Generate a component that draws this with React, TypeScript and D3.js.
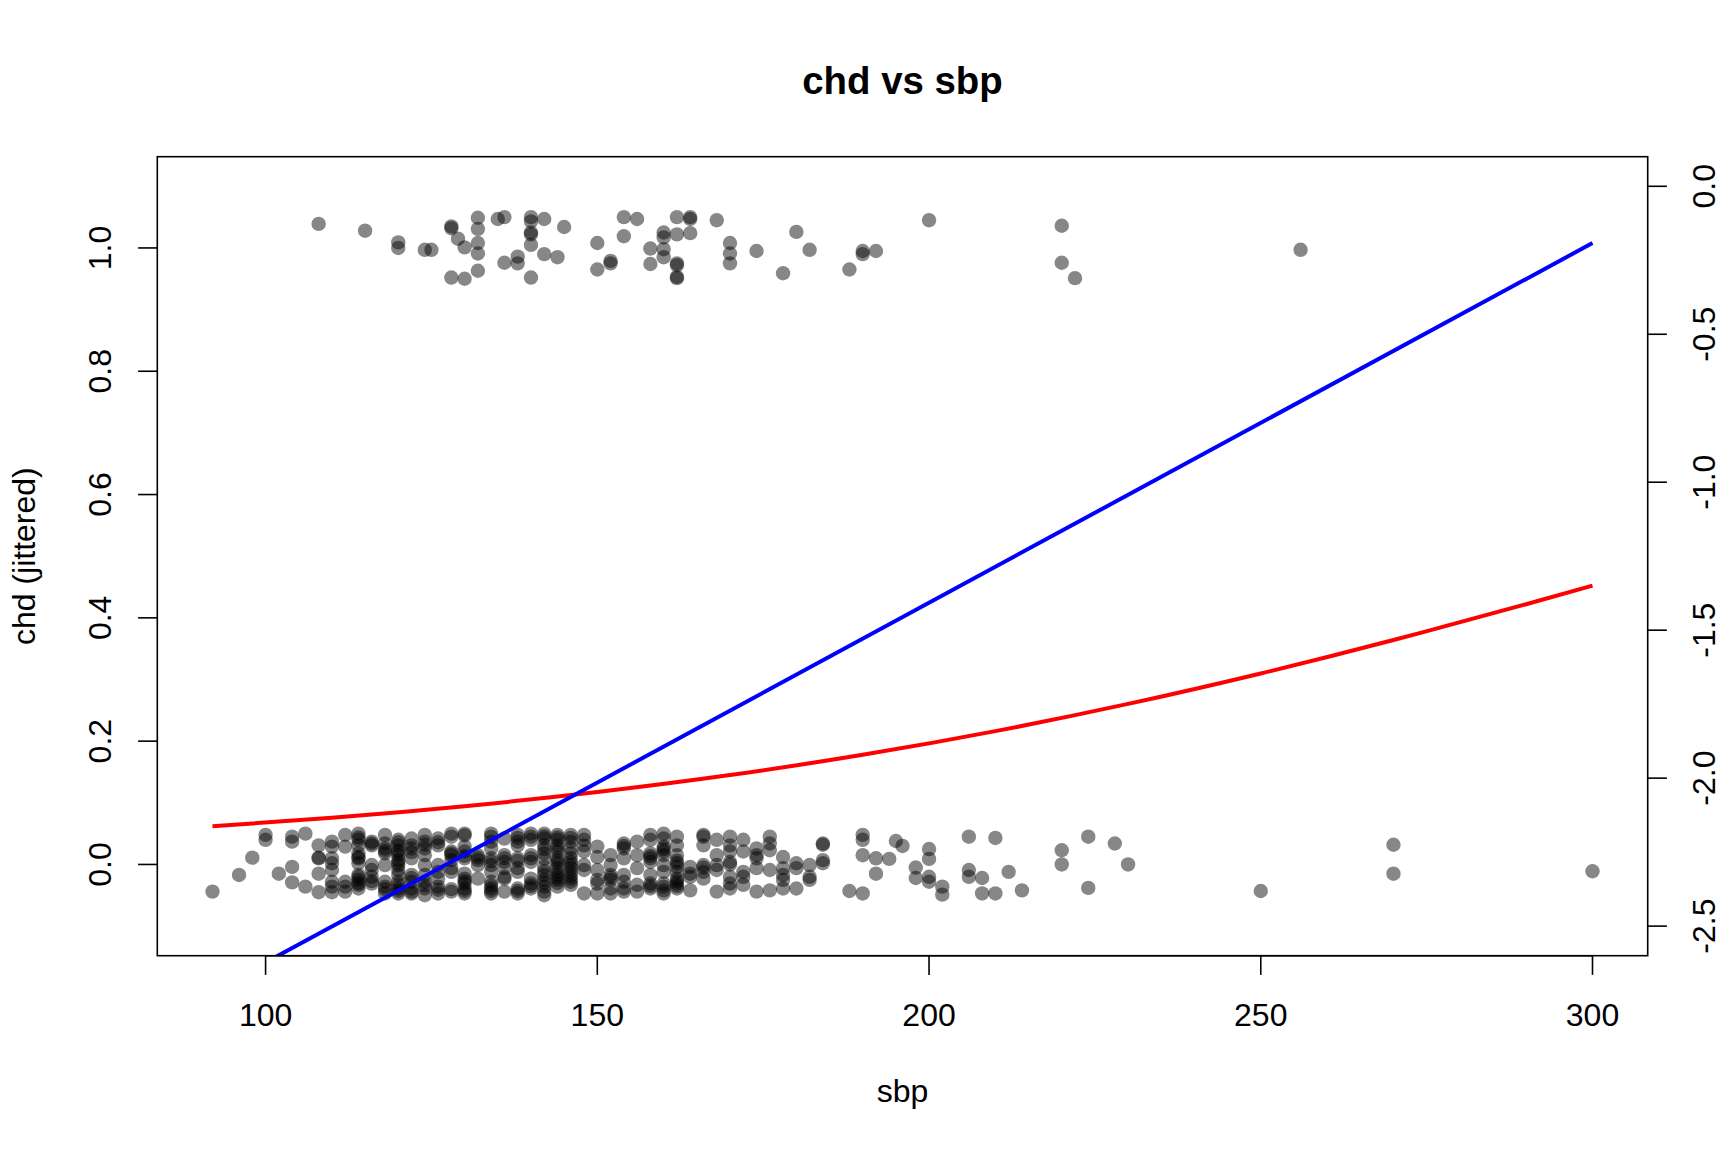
import React from 'react'
import * as d3 from 'd3'

// chd = 1 cases, [sbp, jittered chd]
const casePoints: Array<[number, number]> = [
  [108, 1.039], [115, 1.028], [120, 1.009], [120, 1.0], [124, 0.997], [125, 0.997],
  [128, 1.032], [128, 1.035], [129, 1.015], [130, 1.001], [128, 0.952], [130, 0.95],
  [132, 1.049], [132, 1.031], [132, 1.008], [132, 0.991], [132, 0.963], [135, 1.047],
  [136, 1.05], [136, 0.976], [138, 0.986], [138, 0.975], [140, 1.05], [140, 1.043],
  [140, 1.025], [140, 1.022], [140, 1.005], [140, 0.952], [142, 1.047], [142, 0.99],
  [144, 0.985], [145, 1.034], [150, 1.008], [150, 0.965], [152, 0.979], [152, 0.975],
  [154, 1.05], [154, 1.019], [156, 1.047], [158, 0.999], [158, 0.974], [160, 1.025],
  [160, 1.017], [160, 0.998], [160, 0.985], [162, 1.05], [162, 1.022], [162, 0.975],
  [162, 0.972], [162, 0.953], [162, 0.951], [164, 1.05], [164, 1.047], [164, 1.024],
  [168, 1.045], [170, 1.008], [170, 0.991], [170, 0.975], [174, 0.995], [178, 0.959],
  [180, 1.026], [182, 0.997], [188, 0.965], [190, 0.995], [190, 0.99], [192, 0.995],
  [200, 1.045], [220, 1.036], [220, 0.976], [222, 0.951], [256, 0.997],
]

// chd = 0 controls, grouped by sbp: [sbp, jittered chd values]
const controlColumns: Array<[number, number[]]> = [
  [92, [-0.044]], [96, [-0.017]], [98, [0.011]], [100, [0.048, 0.04]], [102, [-0.015]],
  [104, [0.045, 0.037, -0.004, -0.029]], [106, [0.05, -0.036]],
  [108, [0.031, 0.011, 0.01, -0.015, -0.045]],
  [110, [0.037, 0.029, 0.01, 0.002, -0.009, -0.028, -0.036, -0.045]],
  [112, [0.048, 0.029, -0.028, -0.036, -0.044]],
  [114, [0.05, 0.04, 0.031, 0.018, 0.01, 0.002, -0.017, -0.025, -0.033, -0.039, 0.044, 0.012, -0.02, -0.03]],
  [116, [0.037, 0.031, -0.001, -0.009, -0.02, -0.031, 0.034, -0.027]],
  [118, [0.048, 0.034, 0.026, 0.018, -0.001, -0.028, -0.036, -0.047, 0.022, -0.04]],
  [120, [0.04, 0.031, 0.023, 0.015, 0.007, -0.001, -0.009, -0.017, -0.028, -0.039, -0.047, 0.036, 0.02, 0.003, -0.043, -0.033]],
  [122, [0.042, 0.031, 0.02, 0.01, -0.017, -0.028, -0.039, -0.047, 0.026, -0.022, -0.044]],
  [124, [0.048, 0.037, 0.026, 0.015, -0.001, -0.017, -0.028, -0.039, -0.05, 0.032, -0.034]],
  [126, [0.042, 0.031, -0.001, -0.012, -0.023, -0.036, -0.047, 0.036, -0.041]],
  [128, [0.05, 0.045, 0.021, 0.015, 0.007, -0.006, -0.012, -0.044, 0.018, -0.04]],
  [130, [0.05, 0.029, 0.021, 0.01, -0.015, -0.023, -0.031, -0.039, -0.047, 0.047, 0.014, -0.027, -0.043]],
  [132, [0.015, 0.007, -0.001, -0.023, 0.011]],
  [134, [0.05, 0.037, 0.026, 0.01, -0.001, -0.012, -0.028, -0.039, -0.047, 0.045, 0.005, -0.034, -0.043]],
  [136, [0.042, 0.015, 0.004, -0.006, -0.023, -0.044, 0.01, -0.02]],
  [138, [0.048, 0.037, 0.031, 0.01, -0.006, -0.012, -0.039, -0.047, 0.043, 0.006, -0.043]],
  [140, [0.05, 0.04, 0.015, 0.004, -0.023, -0.031, -0.039, 0.045, 0.01, -0.035]],
  [142, [0.05, 0.042, 0.031, 0.018, 0.01, -0.004, -0.017, -0.025, -0.036, -0.044, -0.05, 0.046, 0.025, -0.011, -0.03]],
  [144, [0.048, 0.04, 0.031, 0.021, 0.01, 0.002, -0.006, -0.017, -0.025, -0.036, 0.044, 0.026, 0.006, -0.012, -0.021, -0.03]],
  [146, [0.048, 0.037, 0.026, 0.01, -0.001, -0.012, -0.023, -0.033, 0.043, 0.018, 0.004, -0.006, -0.018, -0.028]],
  [148, [0.048, 0.031, 0.021, -0.001, -0.009, -0.047, 0.04]],
  [150, [0.029, 0.012, -0.009, -0.025, -0.031, -0.047]],
  [152, [0.015, -0.001, -0.017, -0.025, -0.039, -0.047, -0.021]],
  [154, [0.034, 0.026, 0.01, -0.017, -0.028, -0.039, -0.044, 0.03]],
  [156, [0.037, 0.015, -0.006, -0.033, -0.044]],
  [158, [0.048, 0.04, 0.018, 0.01, 0.004, -0.017, -0.031, -0.039, 0.014, -0.035]],
  [160, [0.05, 0.042, 0.029, 0.021, 0.015, -0.001, -0.012, -0.031, -0.042, -0.047, 0.025, -0.036]],
  [162, [0.045, 0.031, 0.015, 0.002, -0.004, -0.012, -0.023, -0.031, -0.039, 0.006, -0.027, -0.035]],
  [164, [-0.004, -0.015, -0.02, -0.042]],
  [166, [0.048, 0.031, -0.001, -0.012, -0.023, 0.045, -0.005]],
  [168, [0.04, 0.015, -0.001, -0.009, -0.044]],
  [170, [0.045, 0.031, 0.021, 0.004, -0.02, -0.031, -0.039, 0.0]],
  [172, [0.04, 0.021, -0.012, -0.02, -0.033]],
  [174, [0.026, 0.015, 0.01, -0.006, -0.044]],
  [176, [0.045, 0.034, 0.023, -0.009, -0.042]],
  [178, [0.012, -0.006, -0.017, -0.025, -0.039]],
  [180, [0.002, -0.006, -0.039]],
  [182, [-0.001, -0.02, -0.025]],
  [184, [0.034, 0.032, 0.007, 0.002]],
  [188, [-0.043]], [190, [0.048, 0.04, 0.015, -0.047]], [192, [0.01, -0.015]],
  [194, [0.009]], [195, [0.038]], [196, [0.03]], [198, [-0.005, -0.022]],
  [200, [0.025, 0.009, -0.02, -0.028]], [202, [-0.036, -0.049]],
  [206, [0.045, -0.009, -0.02]], [208, [-0.022, -0.047]], [210, [0.043, -0.047]],
  [212, [-0.012]], [214, [-0.042]], [220, [0.023, 0.0]], [224, [0.045, -0.038]],
  [228, [0.034]], [230, [0.0]], [250, [-0.043]], [270, [0.032, -0.015]], [300, [-0.011]],
]

// fitted probability (left axis, red)
const fitSbp = [92, 110, 130, 150, 170, 190, 210, 230, 250, 270, 290, 300]
const fitProb = [0.062, 0.0757, 0.0945, 0.1175, 0.145, 0.1779, 0.2163, 0.2604, 0.3098, 0.364, 0.4221, 0.4522]

// linear predictor (right axis, blue)
const linkSbp = [92, 300]
const linkLogit = [-2.72, -0.1917]

const xTicks = [100, 150, 200, 250, 300]
const yLeftTicks = [0, 0.2, 0.4, 0.6, 0.8, 1.0]
const yRightTicks = [0, -0.5, -1.0, -1.5, -2.0, -2.5]

const W = 1728
const H = 1152
const LINE = 38.4 // one R margin line
const plot = { left: 157.3, right: 1647.7, top: 156.7, bottom: 955.7 }
const font = 'Liberation Sans, Arial, Helvetica, sans-serif'

// R style 4% range extension
const extend = (lo: number, hi: number): [number, number] => {
  const d = (hi - lo) * 0.04
  return [lo - d, hi + d]
}

export default function App() {
  const allSbp = [...casePoints.map(d => d[0]), ...controlColumns.map(d => d[0])]
  const x = d3.scaleLinear()
    .domain(extend(d3.min(allSbp)!, d3.max(allSbp)!))
    .range([plot.left, plot.right])
  const yLeft = d3.scaleLinear().domain(extend(-0.1, 1.1)).range([plot.bottom, plot.top])
  const yRight = d3.scaleLinear().domain(extend(-2.5, 0)).range([plot.bottom, plot.top])

  const points: Array<[number, number]> = [
    ...casePoints,
    ...controlColumns.flatMap(([s, ys]) => ys.map(v => [s, v] as [number, number])),
  ]

  const redLine = d3.line<number>()
    .x((_, i) => x(fitSbp[i]))
    .y(d => yLeft(d))
    .curve(d3.curveNatural)(fitProb)

  const blueLine = d3.line<number>()
    .x((_, i) => x(linkSbp[i]))
    .y(d => yRight(d))(linkLogit)

  const tick = LINE * 0.5
  const midX = (plot.left + plot.right) / 2
  const midY = (plot.top + plot.bottom) / 2

  return (
    <svg width={W} height={H} style={{ position: 'absolute', left: 0, top: 0, background: '#fff' }}
      fontFamily={font}>
      <defs>
        <clipPath id="plotClip">
          <rect x={plot.left} y={plot.top} width={plot.right - plot.left} height={plot.bottom - plot.top} />
        </clipPath>
      </defs>
      <rect width={W} height={H} fill="#fff" />

      <text x={midX} y={94} textAnchor="middle" fontSize={38.4} fontWeight="bold">chd vs sbp</text>

      <g clipPath="url(#plotClip)">
        {points.map((d, i) => (
          <circle key={i} cx={x(d[0])} cy={yLeft(d[1])} r={7.2} fill="rgba(0,0,0,0.47)" />
        ))}
        <path d={redLine ?? ''} fill="none" stroke="#ff0000" strokeWidth={4} />
        <path d={blueLine ?? ''} fill="none" stroke="#0000ff" strokeWidth={4} />
      </g>

      <rect x={plot.left} y={plot.top} width={plot.right - plot.left} height={plot.bottom - plot.top}
        fill="none" stroke="#000" strokeWidth={1.6} />

      {/* bottom axis */}
      <line x1={x(xTicks[0])} x2={x(xTicks[xTicks.length - 1])} y1={plot.bottom} y2={plot.bottom} stroke="#000" strokeWidth={1.6} />
      {xTicks.map(t => (
        <g key={t}>
          <line x1={x(t)} x2={x(t)} y1={plot.bottom} y2={plot.bottom + tick} stroke="#000" strokeWidth={1.6} />
          <text x={x(t)} y={1026} textAnchor="middle" fontSize={32}>{t}</text>
        </g>
      ))}
      <text x={midX} y={1102} textAnchor="middle" fontSize={32}>sbp</text>

      {/* left axis */}
      {yLeftTicks.map(t => (
        <g key={t}>
          <line x1={plot.left - tick} x2={plot.left} y1={yLeft(t)} y2={yLeft(t)} stroke="#000" strokeWidth={1.6} />
          <text transform={`translate(111,${yLeft(t)}) rotate(-90)`} textAnchor="middle" fontSize={32}>{t.toFixed(1)}</text>
        </g>
      ))}
      <text transform={`translate(34.5,${midY}) rotate(-90)`} textAnchor="middle" fontSize={32}>chd (jittered)</text>

      {/* right axis */}
      {yRightTicks.map(t => (
        <g key={t}>
          <line x1={plot.right} x2={plot.right + tick} y1={yRight(t)} y2={yRight(t)} stroke="#000" strokeWidth={1.6} />
          <text transform={`translate(1715,${yRight(t)}) rotate(-90)`} textAnchor="middle" fontSize={32}>{t.toFixed(1)}</text>
        </g>
      ))}
    </svg>
  )
}
